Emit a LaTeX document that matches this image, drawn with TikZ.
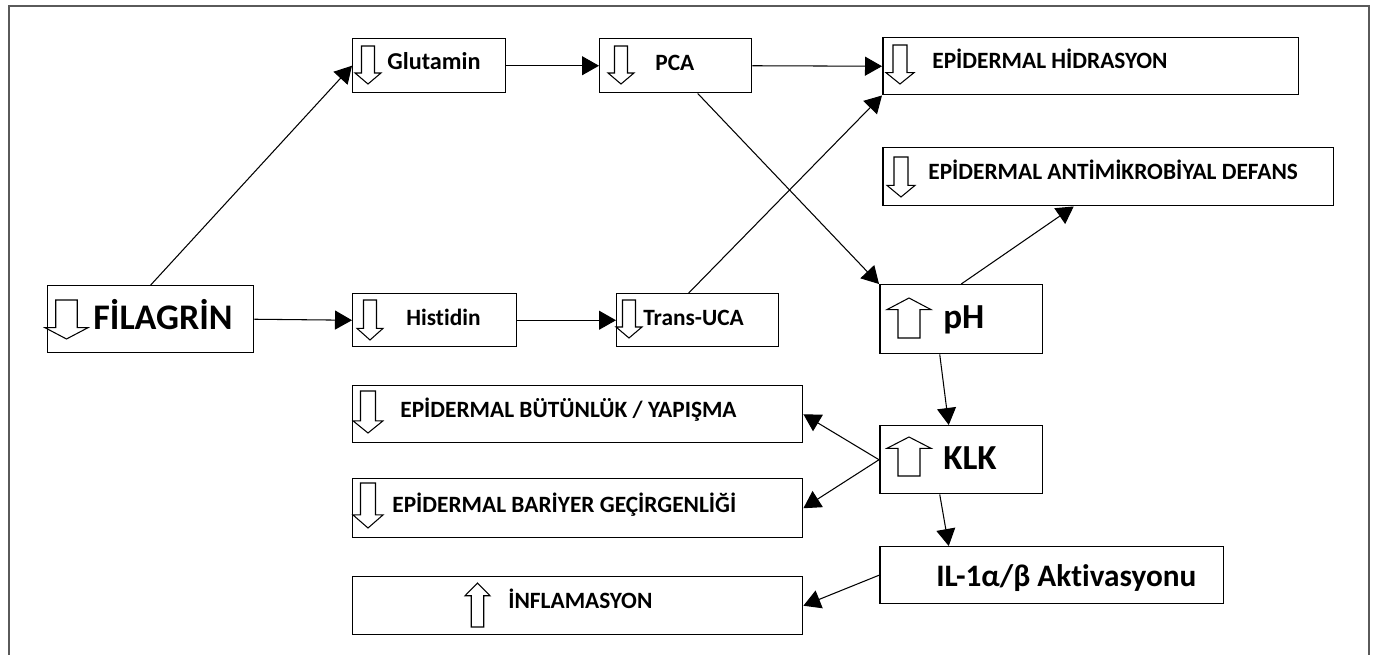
\documentclass[tikz,border=0pt]{standalone}
\usepackage{fontspec}
\setmainfont{Carlito}[Ligatures=NoCommon]
\usetikzlibrary{arrows.meta}
\definecolor{framegray}{HTML}{5A5A5A}
\tikzset{
  box/.style={draw, line width=0.85pt, inner sep=0pt, anchor=north west},
  lbl/.style={anchor=base west, inner sep=0pt, font=\bfseries\fontsize{13.3}{16}\selectfont},
  biglbl/.style={lbl, font=\bfseries\fontsize{20}{24}\selectfont},
  link/.style={-{Triangle[length=0.34cm, width=0.38cm]}, line width=0.6pt},
  darr/.pic={\draw[line width=0.6pt] (0.25,0) -- (0.75,0) -- (0.75,0.71) -- (1,0.71) -- (0.5,1)
             -- (0,0.71) -- (0.25,0.71) -- cycle;},
  uarr/.pic={\draw[line width=0.6pt] (0.5,0) -- (1,0.29) -- (0.75,0.29) -- (0.75,1) -- (0.25,1)
             -- (0.25,0.29) -- (0,0.29) -- cycle;},
}
\begin{document}
\begin{tikzpicture}[x=0.02cm, y=-0.02cm]
    \useasboundingbox (0,0) rectangle (1373,655);
    \draw[framegray, line width=1.1pt] (9,655) -- (9,6) -- (1369,6) -- (1369,655);

    \node[box, minimum width=4.12cm, minimum height=1.34cm] (fil) at (47,285) {};
    \node[box, minimum width=3.06cm, minimum height=1.08cm] (glu) at (352,38) {};
    \node[box, minimum width=3.04cm, minimum height=1.08cm] (pca) at (599,38) {};
    \node[box, minimum width=8.32cm, minimum height=1.14cm] (hid) at (882,37) {};
    \node[box, minimum width=9.02cm, minimum height=1.16cm] (ant) at (882,147) {};
    \node[box, minimum width=3.28cm, minimum height=1.06cm] (his) at (352,293) {};
    \node[box, minimum width=3.24cm, minimum height=1.06cm] (uca) at (616,293) {};
    \node[box, minimum width=3.26cm, minimum height=1.38cm] (ph) at (879,284) {};
    \node[box, minimum width=3.26cm, minimum height=1.36cm] (klk) at (879,425) {};
    \node[box, minimum width=6.88cm, minimum height=1.14cm] (il) at (879,546) {};
    \node[box, minimum width=9cm, minimum height=1.14cm] (but) at (352,385) {};
    \node[box, minimum width=9cm, minimum height=1.18cm] (bar) at (352,478) {};
    \node[box, minimum width=9cm, minimum height=1.16cm] (inf) at (352,576) {};

    \node[lbl, font=\bfseries\fontsize{20.5}{25}\selectfont] (tfil) at (93,330) {FİLAGRİN};
    \node[lbl, font=\bfseries\fontsize{13.8}{17}\selectfont] (tglu) at (387,70) {Glutamin};
    \node[lbl] (tpca) at (655,71) {PCA};
    \node[lbl] (thid) at (932,69) {EPİDERMAL HİDRASYON};
    \node[lbl] (tant) at (928,180) {EPİDERMAL ANTİMİKROBİYAL DEFANS};
    \node[lbl] (this) at (406,325) {Histidin};
    \node[lbl] (tuca) at (643,325) {Trans-UCA};
    \node[biglbl] (tph) at (943,329) {pH};
    \node[biglbl] (tklk) at (943,469) {KLK};
    \node[lbl, font=\bfseries\fontsize{17.8}{21}\selectfont] (til) at (936,586) {IL-1α/β Aktivasyonu};
    \node[lbl] (tbut) at (400,417) {EPİDERMAL BÜTÜNLÜK / YAPIŞMA};
    \node[lbl] (tbar) at (392,512) {EPİDERMAL BARİYER GEÇİRGENLİĞİ};
    \node[lbl] (tinf) at (508,608) {İNFLAMASYON};

    \pic[xscale=43, yscale=39] at (45,300) {darr};
    \pic[xscale=26, yscale=38] at (355,46) {darr};
    \pic[xscale=26, yscale=38] at (608,46) {darr};
    \pic[xscale=28, yscale=39] at (886,45) {darr};
    \pic[xscale=28, yscale=40] at (887,157) {darr};
    \pic[xscale=26, yscale=40] at (357,300) {darr};
    \pic[xscale=26, yscale=38] at (616,300) {darr};
    \pic[xscale=30, yscale=42] at (353,391) {darr};
    \pic[xscale=30, yscale=45] at (353,483) {darr};
    \pic[xscale=25, yscale=44] at (465,583) {uarr};
    \pic[xscale=44, yscale=40] at (887,298) {uarr};
    \pic[xscale=44, yscale=39] at (887,437) {uarr};

    \draw[link] (fil.north) -- (glu.west);
    \draw[link] (fil.east) -- (his.west);
    \draw[link] (glu.east) -- (pca.west);
    \draw[link] (pca.east) -- (hid.west);
    \draw[link] (his.east) -- (uca.west);
    \draw[link] ([xshift=0.44cm]pca.south) -- (ph.north west);
    \draw[link] ([xshift=-0.18cm]uca.north) -- (hid.south west);
    \draw[link] (ph.north) -- ([xshift=-0.69cm]ant.south);
    \draw[link] ([xshift=-0.43cm]ph.south) -- ([xshift=-0.25cm]klk.north);
    \draw[link] (klk.west) -- (but.east);
    \draw[link] (klk.west) -- (bar.east);
    \draw[link] ([xshift=-0.43cm]klk.south) -- ([xshift=-2.06cm]il.north);
    \draw[link] (il.west) -- (inf.east);
\end{tikzpicture}
\end{document}
